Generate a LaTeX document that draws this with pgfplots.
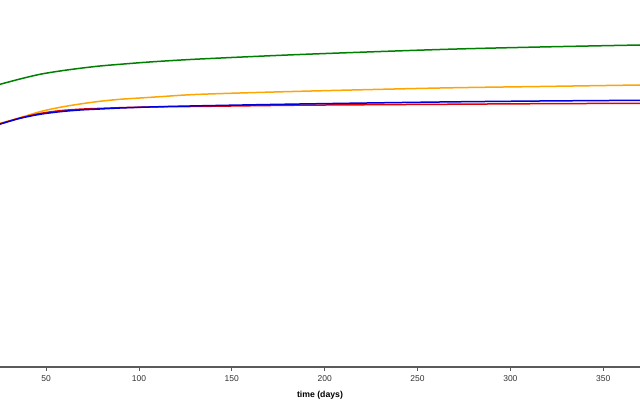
\documentclass[border=0pt]{standalone}
\usepackage{pgfplots}
\pgfplotsset{compat=1.18}
\usepackage{fontspec}
\setmainfont{Liberation Sans}
\definecolor{cgreen}{RGB}{0,128,0}
\definecolor{corange}{RGB}{255,165,0}
\definecolor{cblue}{RGB}{0,0,220}
\definecolor{cred}{RGB}{230,0,0}
\definecolor{axgray}{RGB}{90,90,90}
\begin{document}
\begin{tikzpicture}
\useasboundingbox (0,-33bp) rectangle (640bp,367bp);
\begin{axis}[
  scale only axis,
  width=640bp, height=367bp,
  xmin=25.2, xmax=369.8,
  ymin=0, ymax=367,
  axis x line*=bottom,
  axis y line=none,
  x axis line style={axgray, line width=1.3bp},
  xtick={50,100,...,350},
  tick align=outside,
  major tick length=3.5bp,
  tick style={axgray, line width=0.6bp},
  xticklabel style={font=\fontsize{8.5bp}{10bp}\selectfont, text=black!80, yshift=-1.5bp},
  /pgf/number format/assume math mode=true,
  xlabel={\textbf{time (days)}},
  xlabel style={font=\fontsize{8.7bp}{10bp}\selectfont, yshift=-3bp},
  every axis plot/.append style={line width=1.5bp, smooth},
  clip=true,
]
\addplot[cgreen] coordinates {
(20,280) (25.2,282.7) (36,288) (46.7,292.7) (57.5,296) (68.3,298.7) (79,301) (89.8,302.7) (100.6,304.3) (111.4,305.7) (132.9,308) (186.7,312.5) (262.1,317.5) (316,320) (369.8,322) (380,322.4)};
\addplot[corange] coordinates {
(20,241) (25.2,243.7) (36,249.3) (46.7,255.3) (57.5,259.7) (68.3,263) (79,265.7) (89.8,267.7) (100.6,269) (111.4,270.3) (132.9,272.7) (186.7,275.7) (262.1,279) (316,280.5) (369.8,282) (380,282.2)};
\addplot[cred] coordinates {
(20,240.5) (25.2,243) (36,249) (46.7,253.5) (57.5,256.3) (68.3,257.8) (79,258.6) (89.8,259.3) (100.6,259.8) (111.4,260.2) (132.9,260.6) (186.7,261.8) (262.1,262.7) (316,263.3) (369.8,263.7) (380,263.8)};
\addplot[cblue] coordinates {
(20,240.5) (25.2,243) (36,248.7) (46.7,252.7) (57.5,255.3) (68.3,257) (79,258) (89.8,259) (100.6,259.7) (111.4,260.3) (132.9,261.2) (186.7,263) (262.1,265) (316,266) (369.8,266.7) (380,266.8)};
\end{axis}
\end{tikzpicture}
\end{document}
